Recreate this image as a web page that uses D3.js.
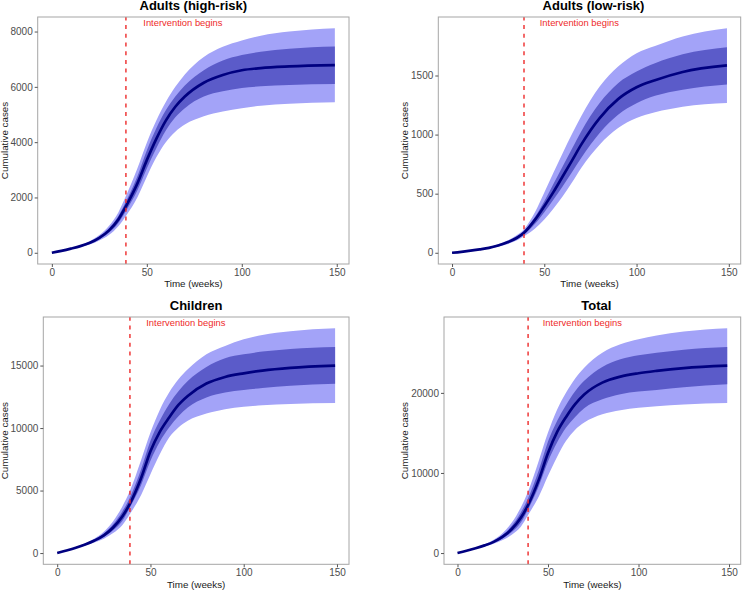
<!DOCTYPE html>
<html lang="en">
<head>
<meta charset="UTF-8">
<script src="https://d3js.org/d3.v7.min.js"></script>
<title>Cumulative cases</title>
<style>
  body { margin: 0; background: #fff; }
  text { font-family: "Liberation Sans", Arial, sans-serif; }
</style>
</head>
<body>
<script>

var weeks = [0, 5, 10, 15, 20, 25, 30, 35, 39, 45, 50, 55, 60, 65, 70, 80, 90, 100, 110, 125, 149];

// Adults (high-risk)
var highMed  = [0, 70, 150, 240, 360, 540, 800, 1200, 1680, 2500, 3350, 4120, 4780, 5280, 5650, 6150, 6430, 6600, 6680, 6740, 6785];
var highHi95 = [0, 75, 165, 270, 420, 640, 970, 1460, 2050, 3050, 3980, 4780, 5450, 6000, 6450, 7080, 7450, 7680, 7850, 8000, 8120];
var highLo95 = [0, 65, 135, 210, 300, 440, 640, 960, 1330, 2000, 2750, 3450, 4000, 4380, 4640, 4940, 5110, 5230, 5320, 5390, 5440];
var highHi50 = [0, 72, 157, 255, 390, 590, 880, 1320, 1850, 2760, 3700, 4500, 5150, 5650, 6050, 6600, 6950, 7150, 7270, 7380, 7460];
var highLo50 = [0, 68, 143, 225, 330, 490, 720, 1080, 1510, 2250, 3050, 3780, 4420, 4900, 5230, 5650, 5840, 5960, 6020, 6070, 6100];

// Adults (low-risk)
var lowMed  = [0, 8, 18, 29, 42, 62, 88, 125, 169, 280, 394, 515, 647, 780, 915, 1140, 1300, 1400, 1460, 1530, 1585];
var lowHi95 = [0, 9, 20, 33, 48, 72, 104, 148, 200, 345, 510, 680, 845, 1005, 1155, 1407, 1576, 1689, 1750, 1830, 1900];
var lowLo95 = [0, 7, 16, 25, 36, 52, 73, 103, 140, 205, 282, 375, 478, 595, 718, 915, 1055, 1140, 1188, 1235, 1267];
var lowHi50 = [0, 8.5, 19, 31, 45, 67, 95, 136, 184, 305, 436, 585, 732, 880, 1027, 1267, 1435, 1534, 1604, 1680, 1739];
var lowLo50 = [0, 7.5, 17, 27, 39, 57, 81, 114, 155, 245, 343, 450, 563, 682, 802, 1013, 1168, 1266, 1328, 1380, 1424];

// Children
var childMed  = [0, 200, 420, 680, 1000, 1420, 2050, 2950, 3950, 6000, 8150, 9700, 10840, 11850, 12570, 13560, 14090, 14380, 14600, 14820, 15000];
var childHi95 = [0, 215, 460, 760, 1160, 1700, 2550, 3750, 4980, 7450, 9640, 11450, 12840, 13900, 14700, 15900, 16570, 17100, 17450, 17750, 17985];
var childLo95 = [0, 185, 380, 600, 840, 1150, 1600, 2250, 3120, 4650, 6310, 7900, 9240, 10050, 10580, 11160, 11510, 11700, 11820, 11930, 12000];
var childHi50 = [0, 208, 440, 720, 1080, 1560, 2300, 3350, 4450, 6700, 8980, 10600, 11910, 12950, 13770, 14890, 15590, 15900, 16120, 16330, 16490];
var childLo50 = [0, 192, 400, 640, 920, 1290, 1820, 2580, 3650, 5450, 7380, 8900, 10040, 10950, 11640, 12440, 12840, 13050, 13200, 13380, 13535];

// Total
var totalMed  = [0, 280, 600, 960, 1400, 2050, 3000, 4400, 6000, 9200, 12500, 15100, 17000, 18600, 19800, 21280, 22030, 22450, 22750, 23100, 23410];
var totalHi95 = [0, 300, 660, 1090, 1650, 2500, 3800, 5700, 7700, 11600, 15050, 17900, 20040, 21800, 23150, 25020, 26060, 26690, 27150, 27650, 28070];
var totalLo95 = [0, 260, 540, 830, 1160, 1620, 2300, 3300, 4750, 7100, 9650, 12000, 14010, 15400, 16300, 17340, 17840, 18130, 18330, 18560, 18750];
var totalHi50 = [0, 290, 630, 1025, 1520, 2280, 3400, 5050, 6850, 10400, 13930, 16500, 18500, 20200, 21500, 23240, 24190, 24690, 25000, 25400, 25740];
var totalLo50 = [0, 270, 570, 895, 1280, 1830, 2620, 3800, 5450, 8400, 11430, 13800, 15670, 17000, 18080, 19200, 19830, 20160, 20360, 20700, 21080];

var titles = ["Adults (high-risk)", "Adults (low-risk)", "Children", "Total"];
var xTicks = [0, 50, 100, 150];
var highTicks = [0, 2000, 4000, 6000, 8000];
var lowTicks = [0, 500, 1000, 1500];
var childTicks = [0, 5000, 10000, 15000];
var totalTicks = [0, 10000, 20000];

var interventionWeek = 39;
var labelWeek = 69;
var labelText = "Intervention begins";

var width = 750, height = 590;

var svg = d3.select("body").append("svg")
    .attr("width", width)
    .attr("height", height);

// panel boxes
var panels = [
    {title: titles[0], med: highMed, lo95: highLo95, hi95: highHi95, lo50: highLo50, hi50: highHi50, ticks: highTicks,
     box: {l: 37.7, r: 349, t: 17, b: 264}, titleShift: 0, yTitleX: 7.5},
    {title: titles[1], med: lowMed, lo95: lowLo95, hi95: lowHi95, lo50: lowLo50, hi50: lowHi50, ticks: lowTicks,
     box: {l: 438.3, r: 740.7, t: 17, b: 264}, titleShift: 4, yTitleX: 408.3},
    {title: titles[2], med: childMed, lo95: childLo95, hi95: childHi95, lo50: childLo50, hi50: childHi50, ticks: childTicks,
     box: {l: 43.3, r: 349, t: 317, b: 564.3}, titleShift: 0, yTitleX: 7.5},
    {title: titles[3], med: totalMed, lo95: totalLo95, hi95: totalHi95, lo50: totalLo50, hi50: totalHi50, ticks: totalTicks,
     box: {l: 444, r: 740.7, t: 317, b: 564.3}, titleShift: 4, yTitleX: 408.3}
];

panels.forEach(drawPanel);

function expand(lo, hi) {
    var pad = (hi - lo) * 0.05;
    return [lo - pad, hi + pad];
}

function drawPanel(p) {
    var box = p.box;
    var g = svg.append("g");

    var x = d3.scaleLinear()
        .domain(expand(d3.min(weeks), d3.max(weeks)))
        .range([box.l, box.r]);

    var y = d3.scaleLinear()
        .domain(expand(0, d3.max(p.hi95)))
        .range([box.b, box.t]);

    var rows = weeks.map(function(w, i) {
        return {w: w, med: p.med[i], lo95: p.lo95[i], hi95: p.hi95[i], lo50: p.lo50[i], hi50: p.hi50[i]};
    });

    var area95 = d3.area()
        .x(function(d) { return x(d.w); })
        .y0(function(d) { return y(d.lo95); })
        .y1(function(d) { return y(d.hi95); })
        .curve(d3.curveMonotoneX);

    var area50 = d3.area()
        .x(function(d) { return x(d.w); })
        .y0(function(d) { return y(d.lo50); })
        .y1(function(d) { return y(d.hi50); })
        .curve(d3.curveMonotoneX);

    var line = d3.line()
        .x(function(d) { return x(d.w); })
        .y(function(d) { return y(d.med); })
        .curve(d3.curveMonotoneX);

    g.append("path").datum(rows)
        .attr("d", area95)
        .attr("fill", "#a3a3f8");

    g.append("path").datum(rows)
        .attr("d", area50)
        .attr("fill", "#5b5bc9");

    g.append("path").datum(rows)
        .attr("d", line)
        .attr("fill", "none")
        .attr("stroke", "#000080")
        .attr("stroke-width", 2.7);

    // intervention line, drawn bottom to top so the dash pattern starts at the axis
    g.append("line")
        .attr("x1", x(interventionWeek)).attr("x2", x(interventionWeek))
        .attr("y1", box.b).attr("y2", box.t)
        .attr("stroke", "#ee2a2a")
        .attr("stroke-width", 1.4)
        .attr("stroke-dasharray", "4,4.7");

    g.append("text")
        .attr("x", x(labelWeek))
        .attr("y", box.t + 8.5)
        .attr("text-anchor", "middle")
        .attr("font-size", "9.4px")
        .attr("fill", "#ee2a2a")
        .text(labelText);

    // panel border
    g.append("rect")
        .attr("x", box.l).attr("y", box.t)
        .attr("width", box.r - box.l).attr("height", box.b - box.t)
        .attr("fill", "none")
        .attr("stroke", "#a6a6a6")
        .attr("stroke-width", 1);

    var xAxis = d3.axisBottom(x).tickValues(xTicks).tickSize(3).tickPadding(2);
    var gx = g.append("g")
        .attr("transform", "translate(0," + box.b + ")")
        .call(xAxis);

    var yAxis = d3.axisLeft(y).tickValues(p.ticks).tickSize(3).tickPadding(2).tickFormat(d3.format("d"));
    var gy = g.append("g")
        .attr("transform", "translate(" + box.l + ",0)")
        .call(yAxis);

    [gx, gy].forEach(function(a) {
        a.select(".domain").remove();
        a.selectAll(".tick line").attr("stroke", "#555");
        a.selectAll(".tick text")
            .attr("fill", "#4d4d4d")
            .style("font-size", "10px")
            .style("font-family", "Liberation Sans, Arial, sans-serif");
    });

    g.append("text")
        .attr("x", (box.l + box.r) / 2 + p.titleShift)
        .attr("y", box.t - 7)
        .attr("text-anchor", "middle")
        .attr("font-size", "13px")
        .attr("font-weight", "bold")
        .attr("fill", "#000")
        .text(p.title);

    g.append("text")
        .attr("x", (box.l + box.r) / 2)
        .attr("y", box.b + 23.3)
        .attr("text-anchor", "middle")
        .attr("font-size", "9.8px")
        .attr("font-weight", "normal")
        .attr("fill", "#1a1a1a")
        .text("Time (weeks)");

    g.append("text")
        .attr("transform", "translate(" + p.yTitleX + "," + (box.t + box.b) / 2 + ") rotate(-90)")
        .attr("text-anchor", "middle")
        .attr("font-size", "9.8px")
        .attr("font-weight", "normal")
        .attr("fill", "#1a1a1a")
        .text("Cumulative cases");
}

</script>
</body>
</html>
